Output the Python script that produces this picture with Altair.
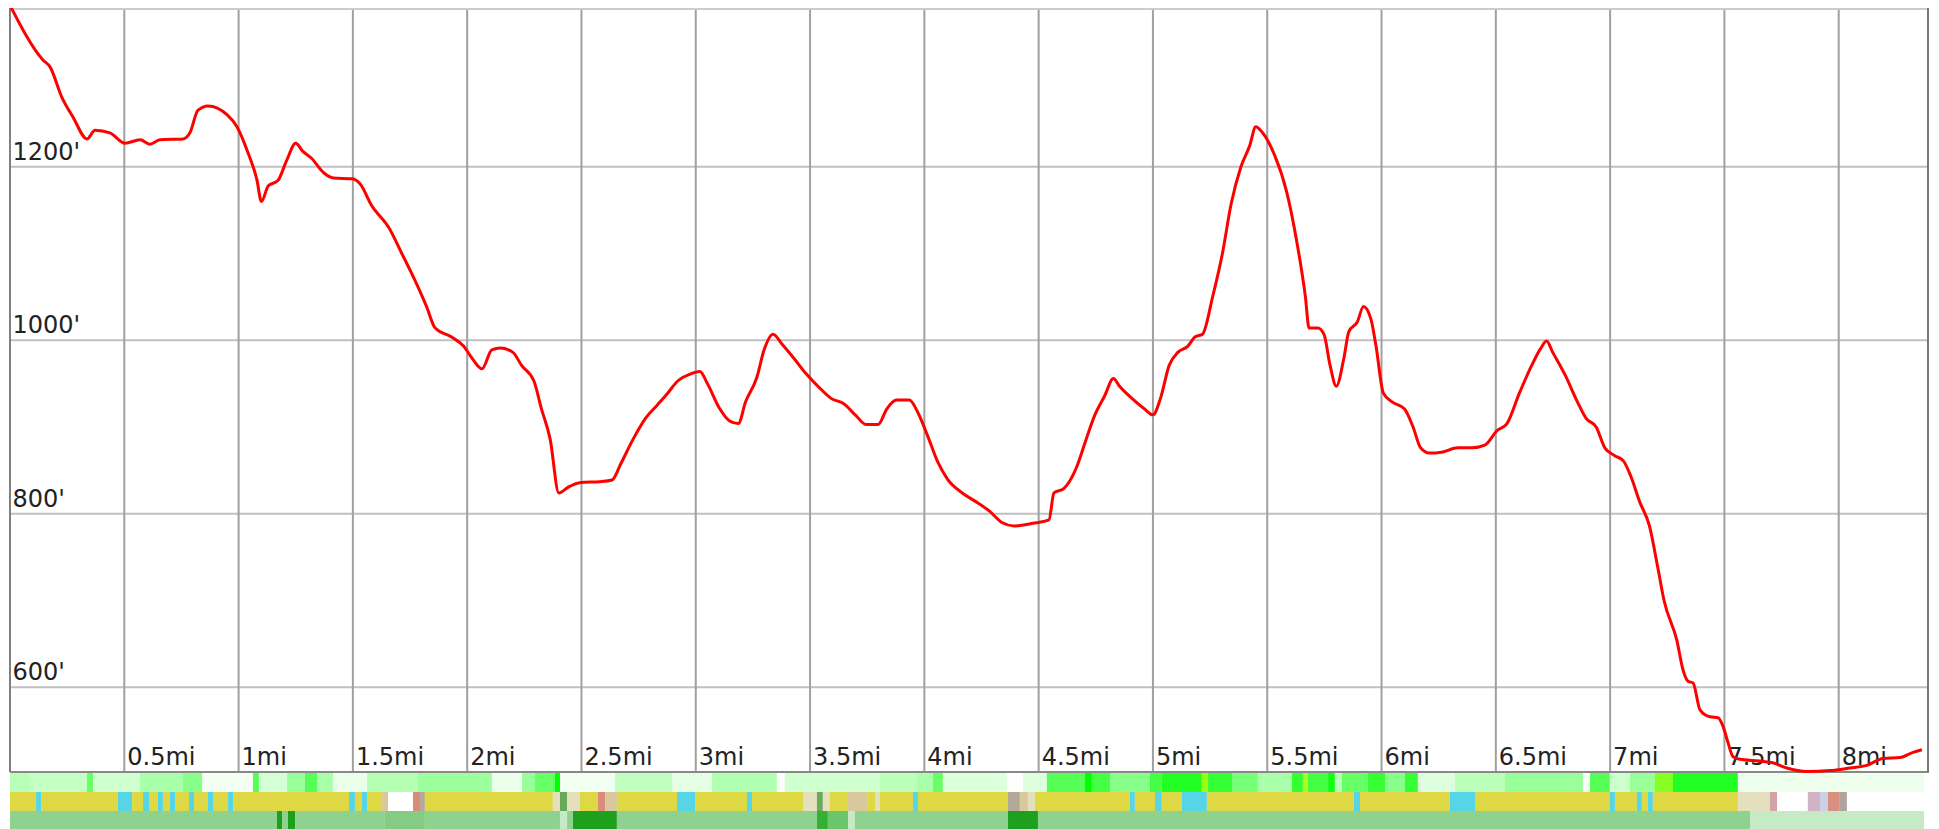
import altair as alt
import pandas as pd

# ---------------- data ----------------
dist_mi = [0.000, 0.144, 0.175, 0.227, 0.276, 0.337, 0.372, 0.437, 0.503, 0.569, 0.612, 0.656,
           0.757, 0.787, 0.822, 0.866, 0.949, 0.993, 1.037, 1.080, 1.100, 1.130, 1.172, 1.210,
           1.250, 1.280, 1.318, 1.372, 1.415, 1.497, 1.535, 1.578, 1.659, 1.714, 1.768, 1.822,
           1.860, 1.930, 1.985, 2.022, 2.065, 2.108, 2.146, 2.200, 2.238, 2.292, 2.325, 2.363,
           2.401, 2.444, 2.498, 2.579, 2.634, 2.671, 2.726, 2.780, 2.834, 2.877, 2.921, 2.975,
           3.018, 3.051, 3.105, 3.148, 3.186, 3.218, 3.267, 3.299, 3.338, 3.376, 3.430, 3.484,
           3.538, 3.592, 3.646, 3.701, 3.744, 3.798, 3.836, 3.879, 3.934, 3.971, 4.014, 4.058,
           4.101, 4.166, 4.231, 4.285, 4.339, 4.393, 4.475, 4.545, 4.567, 4.610, 4.665, 4.708,
           4.746, 4.789, 4.827, 4.854, 4.908, 4.962, 5.000, 5.033, 5.071, 5.109, 5.152, 5.185,
           5.217, 5.261, 5.304, 5.342, 5.385, 5.423, 5.450, 5.477, 5.531, 5.585, 5.629, 5.667,
           5.683, 5.721, 5.748, 5.775, 5.802, 5.835, 5.857, 5.894, 5.921, 5.954, 5.976, 6.008,
           6.046, 6.100, 6.138, 6.171, 6.209, 6.263, 6.333, 6.398, 6.452, 6.506, 6.549, 6.603,
           6.657, 6.695, 6.722, 6.749, 6.803, 6.857, 6.895, 6.939, 6.977, 7.020, 7.058, 7.091,
           7.129, 7.172, 7.210, 7.236, 7.292, 7.319, 7.341, 7.363, 7.393, 7.437, 7.472, 7.494,
           7.516, 7.538, 7.568, 7.655, 7.712, 7.773, 7.861, 7.962, 8.049, 8.123, 8.194, 8.268,
           8.325, 8.364]
elev_ft = [1386, 1323, 1315, 1280, 1257, 1232, 1242, 1239, 1227, 1231, 1226, 1231,
           1232, 1239, 1265, 1270, 1260, 1246, 1219, 1185, 1160, 1178, 1184, 1207,
           1227, 1218, 1210, 1193, 1187, 1186, 1179, 1157, 1129, 1100, 1071, 1039,
           1014, 1004, 993, 979, 967, 989, 991, 986, 971, 953, 921, 886,
           824, 831, 836, 837, 839, 857, 886, 910, 926, 939, 953, 961,
           964, 950, 921, 907, 904, 929, 957, 989, 1007, 996, 979, 961,
           946, 933, 927, 913, 903, 903, 921, 931, 931, 917, 890, 860,
           840, 824, 813, 803, 790, 786, 789, 793, 824, 829, 853, 886,
           914, 936, 956, 947, 933, 921, 914, 933, 971, 986, 993, 1004,
           1007, 1050, 1100, 1157, 1200, 1224, 1246, 1240, 1214, 1171, 1114, 1050,
           1014, 1014, 1007, 971, 947, 979, 1010, 1021, 1039, 1024, 993, 939,
           929, 921, 900, 876, 870, 871, 876, 876, 879, 896, 904, 939,
           971, 990, 999, 986, 960, 929, 910, 900, 876, 867, 861, 843,
           814, 786, 736, 700, 654, 620, 607, 605, 574, 566, 565, 555,
           536, 520, 517, 515, 513, 507, 503, 504, 507, 510, 518, 519,
           525, 528]

x_ticks = [0.5, 1, 1.5, 2, 2.5, 3, 3.5, 4, 4.5, 5, 5.5, 6, 6.5, 7, 7.5, 8]
x_labels = ["0.5mi", "1mi", "1.5mi", "2mi", "2.5mi", "3mi", "3.5mi", "4mi", "4.5mi",
            "5mi", "5.5mi", "6mi", "6.5mi", "7mi", "7.5mi", "8mi"]
y_ticks = [600, 800, 1000, 1200]
y_labels = ["600'", "800'", "1000'", "1200'"]

# strip 1 (green intensity)
s1_edges = [0, 0.087, 0.337, 0.363, 0.569, 0.757, 0.840, 1.063, 1.089, 1.212, 1.290, 1.343,
            1.413, 1.562, 1.785, 2.108, 2.240, 2.297, 2.384, 2.406, 2.647, 2.896, 3.071, 3.355,
            3.390, 3.806, 3.968, 4.038, 4.081, 4.361, 4.431, 4.536, 4.703, 4.733, 4.812, 4.987,
            5.039, 5.214, 5.241, 5.346, 5.459, 5.608, 5.656, 5.678, 5.766, 5.796, 5.827, 5.940,
            6.015, 6.102, 6.159, 6.321, 6.540, 6.881, 6.912, 6.999, 7.087, 7.196, 7.275, 7.559,
            8.373]
s1_colors = ["#b8ffb8", "#c4ffc4", "#66ff66", "#d0ffd0", "#aaffaa", "#88ff88", "#f2fff2",
             "#55ff55", "#d4ffd4", "#99ff99", "#55ff55", "#aaffaa", "#eaffea", "#b4ffb4",
             "#9cff9c", "#eaffea", "#99ff99", "#66ff66", "#00ff00", "#f0fff0", "#c0ffc0",
             "#e4ffe4", "#b0ffb0", "#f8fff8", "#d0ffd0", "#bbffbb", "#aaffaa", "#66ff66",
             "#dcffdc", "#fcfffc", "#ddffdd", "#55ff55", "#00ff00", "#44ff44", "#88ff88",
             "#44ff44", "#22ff22", "#99ff11", "#33ff33", "#77ff77", "#aaffaa", "#33ff33",
             "#aaff22", "#44ff44", "#11ff11", "#bbffbb", "#66ff66", "#33ff33", "#88ff88",
             "#33ff33", "#ddffdd", "#bbffbb", "#99ff99", "#f8fff8", "#55ff55", "#ccffcc",
             "#99ff99", "#88ff22", "#22ff22", "#eeffee"]

# strip 2 (surface)
Y, C, B, T, S, G, D, W = "#ddd843", "#55d5e5", "#e4dfbd", "#d8c89c", "#da8c7c", "#b4a898", "#66aa5a", "#ffffff"
s2_edges = [0, 0.114, 0.136, 0.472, 0.534, 0.582, 0.608, 0.647, 0.669, 0.700, 0.722, 0.783,
            0.805, 0.866, 0.888, 0.954, 0.976, 1.483, 1.509, 1.540, 1.562, 1.627, 1.654, 1.763,
            1.794, 1.815, 2.375, 2.406, 2.437, 2.493, 2.572, 2.603, 2.660, 2.918, 2.997, 3.224,
            3.246, 3.469, 3.530, 3.556, 3.587, 3.666, 3.753, 3.784, 3.806, 3.950, 3.972, 4.366,
            4.418, 4.453, 4.484, 4.899, 4.921, 5.009, 5.039, 5.127, 5.236, 5.879, 5.906, 6.299,
            6.409, 6.999, 7.021, 7.117, 7.139, 7.165, 7.187, 7.559, 7.699, 7.730, 7.865, 7.918,
            7.953, 8.005, 8.036, 8.373]
s2_colors = [Y, C, Y, C, Y, C, Y, C, Y, C, Y, C, Y, C, Y, C, Y, C, Y, C,
             Y, T, W, S, G, Y, B, D, B, Y, S, T, Y, C, Y, C, Y, B, D, B,
             Y, T, Y, B, Y, C, Y, G, T, B, Y, C, Y, C, Y, C, Y, C, Y, C,
             Y, C, Y, C, Y, C, Y, B, "#d4a4a4", W, "#d0b4c4", "#ccd0e6", "#d89080", "#b0a49c", W]

# strip 3 (green cover)
L, DG, P, M, D2, L2 = "#8fd18f", "#1ea01e", "#c6e9c6", "#6cc46c", "#35b035", "#84cc84"
s3_edges = [0, 1.168, 1.190, 1.216, 1.247, 1.640, 1.815, 2.406, 2.437, 2.463, 2.655, 3.530,
            3.578, 3.666, 3.696, 4.366, 4.497, 7.612, 8.373]
s3_colors = [L, DG, L, DG, L, L2, L, P, L, DG, L, D2, M, P, L, DG, L, P]

# ---------------- layout ----------------
W_PX, H_PX = 1919, 822
PLOT_H = 764
X_DOM = [0, 8.395]
Y_DOM = [502.4, 1382.9]
FONT = "DejaVu Sans"

xs = alt.Scale(domain=X_DOM, nice=False, zero=False)
ys = alt.Scale(domain=Y_DOM, range=[PLOT_H, 0], nice=False, zero=False)

line_df = pd.DataFrame({"mi": dist_mi, "ft": elev_ft})
xt_df = pd.DataFrame({"mi": x_ticks, "label": x_labels})
yt_df = pd.DataFrame({"ft": y_ticks, "label": y_labels})

rows = []
for r, (edges, cols) in enumerate([(s1_edges, s1_colors), (s2_edges, s2_colors), (s3_edges, s3_colors)]):
    for i, c in enumerate(cols):
        rows.append({"x0": edges[i], "x1": edges[i + 1], "r0": r, "r1": r + 1, "color": c})
strip_df = pd.DataFrame(rows)

strips = alt.Chart(strip_df).mark_rect(strokeWidth=0).encode(
    x=alt.X("x0:Q", scale=xs, axis=None),
    x2="x1:Q",
    y=alt.Y("r0:Q", scale=alt.Scale(domain=[0, 3], range=[765, 822], nice=False, zero=False), axis=None),
    y2="r1:Q",
    color=alt.Color("color:N", scale=None),
)

vgrid = alt.Chart(xt_df).mark_rule(color="#a0a0a0", strokeWidth=2).encode(
    x=alt.X("mi:Q", scale=xs, axis=None),
    y=alt.value(0),
    y2=alt.value(PLOT_H),
)

hgrid = alt.Chart(yt_df).mark_rule(color="#c0c0c0", strokeWidth=2).encode(
    y=alt.Y("ft:Q", scale=ys, axis=None),
    x=alt.value(0),
    x2=alt.value(W_PX),
)

frame_df = pd.DataFrame({"side": ["top", "bottom", "left", "right"]})
frame_top = alt.Chart(frame_df.iloc[[0]]).mark_rule(color="#cccccc", strokeWidth=2).encode(
    x=alt.value(0), x2=alt.value(W_PX), y=alt.value(1))
frame_bottom = alt.Chart(frame_df.iloc[[1]]).mark_rule(color="#888888", strokeWidth=2).encode(
    x=alt.value(0), x2=alt.value(W_PX), y=alt.value(PLOT_H))
frame_left = alt.Chart(frame_df.iloc[[2]]).mark_rule(color="#808080", strokeWidth=2).encode(
    x=alt.value(0), y=alt.value(0), y2=alt.value(PLOT_H))
frame_right = alt.Chart(frame_df.iloc[[3]]).mark_rule(color="#777777", strokeWidth=2).encode(
    x=alt.value(W_PX - 1), y=alt.value(0), y2=alt.value(PLOT_H))

ylab = alt.Chart(yt_df).mark_text(align="left", baseline="alphabetic", dy=-7, font=FONT,
                                  fontSize=24, color="#222222").encode(
    x=alt.value(2.5),
    y=alt.Y("ft:Q", scale=ys, axis=None),
    text="label:N",
)

xlab = alt.Chart(xt_df).mark_text(align="left", baseline="alphabetic", dx=3, font=FONT,
                                  fontSize=24, color="#222222").encode(
    x=alt.X("mi:Q", scale=xs, axis=None),
    y=alt.value(757),
    text="label:N",
)

line = alt.Chart(line_df).mark_line(color="#ff0000", strokeWidth=3, interpolate="monotone").encode(
    x=alt.X("mi:Q", scale=xs, axis=None),
    y=alt.Y("ft:Q", scale=ys, axis=None),
)

chart = alt.layer(
    strips, hgrid, vgrid, frame_top, frame_bottom, frame_left, frame_right, ylab, xlab, line
).resolve_scale(y="independent").properties(
    width=W_PX, height=H_PX,
    autosize=alt.AutoSizeParams(type="none"),
    padding={"left": 2, "top": 0, "right": 0, "bottom": 0},
    background="white",
).configure_view(stroke=None)

chart.save("out.html", embed_options={"renderer": "svg", "actions": False})
